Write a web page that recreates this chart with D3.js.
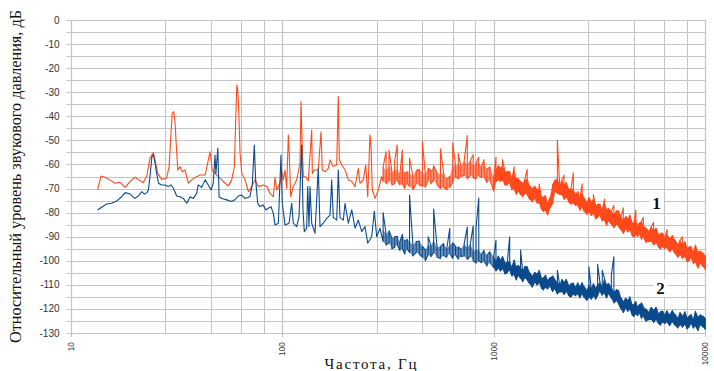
<!DOCTYPE html>
<html><head><meta charset="utf-8">
<script src="https://cdn.jsdelivr.net/npm/d3@7"></script>
<style>body{margin:0;background:#fff}svg{display:block}</style>
</head><body><svg id="c" width="714" height="371"></svg>
<script>
// ---- data ----
const yTicks = [0,-10,-20,-30,-40,-50,-60,-70,-80,-90,-100,-110,-120,-130];
const yGrid = [0,-5,-10,-15,-20,-25,-30,-35,-40,-45,-50,-55,-60,-65,-70,-75,-80,-85,-90,-95,-100,-105,-110,-115,-120,-125,-130];
const xTicks = [10,100,1000,10000];
const xTickLabels = ["10","100","1000","10000"];
const xMinor = [28,46,64,82,280,460,640,820,2800,4600,6400,8200];

// low-frequency part: individual points
const redLowF = [13.4,13.9,14.5,15.3,16.2,17.1,18.1,19.1,20.1,21.3,
22.0,22.9,23.7,24.6,25.0,25.8,26.9,28.4,29.2,29.8,
30.2,30.7,31.1,31.6,32.1,32.9,33.7,34.7,36.0,37.3,
39.4,40.9,43.2,45.6,46.1,46.7,48.1,49.9,51.8,53.7,
55.6,57.7,59.4,60.3,61.0,61.6,62.3,63.2,64.4,66.7,
69.2,71.8,74.4,77.1,81.4,84.5,87.6,90.8,92.5,94.2,
97.6,99.5,101.2,103.1,105.0,106.9,108.0,109.7,112.8,117.1,
121.4,122.7,124.0,125.9,129.2,132.9,137.9,138.8,141.8,148.1,
152.6,154.7,159.4,165.2,168.3,174.4,181.0,184.2,186.2,191.1,
198.2,205.4,213.2,221.0,229.1,233.3,241.8,248.2,253.7,260.1,
263.0,266.7,274.7,284.7,295.4];
const redLowDb = [-70.6,-64.8,-65.3,-66.4,-67.8,-67.4,-69.5,-67.1,-65.3,-66.7,
-67.6,-64.8,-57.4,-55.1,-58.1,-63.7,-66.2,-65.7,-60.9,-47.1,
-38.7,-38.1,-41.5,-52.6,-62.3,-60.9,-63.0,-62.3,-67.8,-66.4,
-65.1,-64.4,-64.4,-54.7,-58.1,-62.3,-63.7,-65.1,-66.4,-67.8,
-68.9,-66.4,-60.9,-41.5,-27.0,-29.1,-37.4,-55.4,-63.7,-66.4,
-71.3,-69.2,-66.4,-69.2,-68.5,-69.2,-72.0,-73.4,-65.3,-70.6,
-67.8,-63.0,-66.4,-62.3,-69.9,-47.8,-55.4,-73.4,-69.2,-66.4,
-59.5,-33.9,-48.5,-65.1,-65.1,-66.8,-45.7,-63.7,-62.3,-62.3,
-46.4,-62.3,-63.0,-61.6,-58.1,-60.9,-60.2,-31.8,-58.0,-60.2,
-62.3,-66.4,-67.1,-69.2,-61.6,-67.8,-66.4,-60.2,-73.4,-47.8,
-52.5,-70.6,-74.1,-70.6,-65.1];

const blueLowF = [13.4,14.0,14.8,15.6,16.5,17.4,18.1,19.1,20.1,20.9,
21.7,22.3,22.9,23.3,23.7,24.2,24.6,25.0,25.5,26.0,
26.9,27.9,28.9,29.8,30.6,31.7,32.9,34.1,35.4,36.7,
38.0,39.4,40.1,41.6,43.2,44.7,46.1,47.2,48.1,48.6,
49.6,50.3,51.8,54.7,57.7,59.8,62.0,64.4,66.7,70.4,
72.2,73.8,74.9,76.6,78.5,81.4,83.6,86.0,88.5,90.8,
92.5,95.9,98.7,100.1,103.1,107.7,110.9,112.8,117.1,120.1,
123.6,125.4,127.2,130.5,132.0,133.9,135.3,137.9,142.9,148.1,
150.9,156.4,162.3,168.3,171.4,174.4,181.0,184.2,187.6,194.5,
198.2,205.4,213.2,221.0,229.1,237.6,246.3,253.7,264.9,272.6,
279.8,290.0];
const blueLowDb = [-78.9,-77.8,-76.4,-76.1,-75.2,-73.4,-71.7,-72.3,-74.1,-73.1,
-71.3,-72.3,-71.7,-70.6,-65.1,-56.8,-56.1,-58.8,-63.7,-67.8,
-68.5,-68.5,-69.2,-68.5,-69.9,-73.1,-73.4,-74.1,-76.1,-73.4,
-74.1,-72.0,-68.5,-69.5,-66.4,-68.5,-70.6,-67.8,-56.1,-63.7,
-53.3,-73.4,-74.1,-74.7,-75.4,-74.7,-73.1,-72.7,-74.1,-73.4,
-68.5,-51.9,-66.4,-76.1,-77.5,-76.8,-78.9,-78.2,-77.5,-80.3,
-85.1,-84.4,-56.1,-76.1,-85.1,-84.4,-76.1,-84.4,-85.8,-81.7,
-51.9,-78.9,-87.9,-86.5,-69.2,-85.8,-69.2,-84.4,-88.6,-61.6,
-85.8,-84.4,-82.4,-81.0,-66.4,-82.0,-83.1,-62.3,-82.0,-83.1,
-76.1,-84.4,-78.9,-86.5,-83.1,-87.9,-85.8,-92.7,-90.0,-79.5,
-90.0,-86.5];

// dense part: frequency bins with upper / lower edge of the noise band
const gridF = [300,310,320,330,340,350,360,370,380,390,
400,415,430,445,460,475,490,505,520,540,
560,580,600,620,640,660,680,700,725,750,
775,800,825,850,875,900,930,960,1000,1025,
1050,1075,1100,1130,1160,1190,1220,1250,1280,1310,
1340,1370,1400,1440,1480,1520,1560,1600,1640,1680,
1720,1760,1800,1850,1900,1950,2000,2050,2100,2150,
2200,2260,2320,2380,2440,2500,2560,2620,2680,2750,
2820,2890,2960,3030,3100,3180,3260,3340,3420,3500,
3600,3700,3800,3900,4000,4100,4200,4300,4400,4500,
4600,4700,4800,4900,5000,5100,5250,5400,5550,5700,
5850,6000,6150,6300,6450,6600,6800,7000,7200,7400,
7600,7800,8000,8200,8400,8600,8800,9000,9250,9500,
9750,10000];
const redUpper = [-61,-62.5,-60.5,-63,-62.5,-62,-64,-61,-63.5,-63,
-63.5,-65,-62.5,-62,-63.5,-64,-61.5,-62.5,-60.5,-63.5,
-64,-63.5,-66,-65,-60,-60.5,-60,-61,-58.5,-60,
-58.5,-60.5,-59.5,-59,-61,-59.5,-62,-61,-65.5,-62,
-60.5,-61.5,-60.5,-63,-63,-63,-66,-63,-66,-66,
-67,-68,-66.5,-66,-69,-70,-69,-70.5,-70,-73.5,
-73.5,-73,-76.5,-73.5,-68.5,-66.5,-66,-68.5,-66.5,-68.5,
-67.5,-70.5,-70,-70.5,-72.5,-71.3,-73.5,-72,-74,-75.8,
-73.7,-75.7,-74.2,-77.1,-76.5,-76.5,-79,-75.9,-78.8,-78.3,
-79.3,-80.8,-79.3,-79.3,-81.7,-83.2,-81.6,-82.5,-81,-84.3,
-84.2,-83,-85.4,-84.2,-83.6,-85.4,-86.4,-87.9,-85.9,-87.4,
-86.4,-89.2,-88.6,-88.6,-90.5,-88.9,-90.9,-89.5,-91.5,-93.5,
-91.5,-93.5,-92,-94.9,-94.3,-94.2,-96.7,-93.5,-96.5,-96,
-96.8,-98.2];
const redLower = [-67,-68,-66.5,-68.5,-68,-66.5,-68.5,-68,-70,-68,
-69,-70.5,-68,-68.5,-69,-69.5,-66.5,-68,-66.5,-68.5,
-70,-69.5,-70.5,-69.5,-67.5,-65,-66,-65,-64.5,-66,
-64.5,-65.5,-66,-64.5,-65.5,-65,-67.5,-66.5,-71,-67,
-66.5,-67,-66.5,-68.5,-68.5,-67.5,-70.5,-70,-72.5,-71,
-72.5,-73.5,-72,-72.5,-74.5,-75.5,-74,-76,-76,-78.5,
-79.5,-79,-81,-78,-76,-71,-72,-72.5,-72.5,-74.5,
-73.5,-75.5,-76.5,-76,-77,-76.8,-79,-77.5,-79.5,-80.8,
-79.7,-81.2,-80.2,-82.6,-82,-81,-83.5,-82.9,-85.3,-83.3,
-84.8,-86.3,-84.8,-85.8,-87.2,-88.7,-86.6,-88,-87,-89.3,
-90.2,-89,-89.9,-88.7,-91.1,-89.9,-92.4,-91.9,-91.9,-93.4,
-92.4,-94.2,-95.1,-94.1,-95,-94.4,-96.4,-95,-97,-98.5,
-97.5,-99,-98,-100.4,-99.8,-98.7,-101.2,-100.5,-103,-101,
-102.3,-103.7];
const redSpikeF = [310,320,340,350,370,400,460,560,640,680,
750,800,850,900,1025,1100,1250,1440,1640,2000,
2150,2380,2620,2960,3340,3700,4100,4700,5100,5700,
6600,7800];
const redSpikeDb = [-54.7,-54,-58.8,-51.9,-54,-57.4,-50.5,-53.5,-51,-55.5,
-48,-56,-57,-58,-57,-58,-61,-62,-68,-50,
-64.5,-63.5,-68,-72.5,-74.5,-77,-78,-79,-82,-84,
-87,-90];

const blueUpper = [-87,-89,-87.5,-90.5,-90,-89.8,-92.2,-89,-91.8,-91.1,
-92,-93.5,-92,-91.8,-94,-95.5,-93.5,-93.8,-91.5,-94.5,
-94,-92.8,-95,-93.5,-92.5,-94,-94.3,-95.2,-93,-94.5,
-93,-96,-95.5,-95.5,-97.3,-95.7,-97.7,-96.2,-98.3,-100.2,
-98,-99.8,-98.2,-101,-100.4,-100.3,-102.8,-99.7,-102.5,-101.9,
-102.8,-104.2,-102.5,-102.5,-105,-106.5,-104.8,-105.6,-104,-107.3,
-107.1,-106,-108.2,-107,-106.3,-108,-108.8,-110,-107.8,-109,
-107.7,-110.4,-109.6,-109.3,-111,-109.2,-110.9,-109.1,-110.8,-112.5,
-110,-111.5,-109.5,-111.5,-110,-109,-110.8,-107.3,-110,-109.5,
-111,-113,-112,-112.5,-115.5,-117,-115.5,-116.5,-115,-118.3,
-118.1,-117,-119.3,-118.1,-117.5,-119.3,-120.1,-121.5,-119.3,-120.6,
-119.3,-122,-121.2,-120.9,-122.6,-120.8,-122.5,-120.7,-122.3,-123.9,
-121.5,-123.1,-121.2,-123.8,-122.9,-122.4,-124.5,-121,-123.5,-122.5,
-123,-124];
const blueLower = [-92,-93.5,-92.5,-95,-94.5,-93.3,-95.7,-95,-97.3,-95.1,
-96.5,-98,-96.5,-97.3,-98.5,-100,-97.5,-98.3,-96.5,-98.5,
-99,-97.8,-98.5,-97,-99,-97.5,-99.3,-98.2,-98,-99.5,
-98,-100,-101,-100,-100.8,-100.2,-102.2,-100.7,-102.8,-104.2,
-103,-104.3,-103.2,-105.5,-104.9,-103.8,-106.3,-105.7,-108,-105.9,
-107.3,-108.7,-107,-108,-109.5,-111,-108.8,-110.1,-109,-111.3,
-112.1,-111,-111.7,-110.5,-112.8,-111.5,-113.8,-113,-112.8,-114,
-112.7,-114.4,-115.1,-113.8,-114.5,-113.7,-115.4,-113.6,-115.3,-116.5,
-115,-116,-114.5,-116,-114.5,-112.5,-114.3,-113.3,-115.5,-113.5,
-115.5,-117.5,-116.5,-118,-120,-121.5,-119.5,-121,-120,-122.3,
-123.1,-122,-122.8,-121.6,-124,-122.8,-125.1,-124.5,-124.3,-125.6,
-124.3,-126,-126.7,-125.4,-126.1,-125.3,-127,-125.2,-126.8,-127.9,
-126.5,-127.6,-126.2,-128.3,-127.4,-125.9,-128,-127,-129,-126.5,
-127.5,-128.5];
const blueSpikeF = [300,400,490,520,620,750,800,825,850,1025,
1190,1340,2000,2820,3100,3260,3600,3700];
const blueSpikeDb = [-80,-72.7,-90,-78.5,-86.5,-86,-85.5,-86.5,-74,-91.5,
-90,-95.5,-104,-102.5,-101.5,-104,-106,-98.3];

const yTitle = "Относительный уровень звукового давления, дБ";
const xTitle = "Частота, Гц";
const seriesLabels = ["1","2"];

// ---- drawing ----
const svg = d3.select("#c");
const x = d3.scaleLog().domain([10,10000]).range([70.7,705.2]);
const y = d3.scaleLinear().domain([-130,0]).range([333,20]);
const gridColor = "#c4c4c4";

svg.append("g").selectAll("line").data(yGrid).join("line")
  .attr("x1",66.5).attr("x2",x(10000))
  .attr("y1",d=>Math.round(y(d))+0.5).attr("y2",d=>Math.round(y(d))+0.5)
  .attr("stroke",gridColor).attr("stroke-width",1);

svg.append("g").selectAll("line").data(xMinor.concat(xTicks)).join("line")
  .attr("x1",d=>Math.round(x(d))+0.5).attr("x2",d=>Math.round(x(d))+0.5)
  .attr("y1",y(0)).attr("y2",d=>xTicks.includes(d)?y(-130)+4:y(-130))
  .attr("stroke",gridColor).attr("stroke-width",d=>xTicks.includes(d)?1.2:1);

svg.append("g").selectAll("text").data(yTicks).join("text")
  .attr("x",59.5).attr("y",d=>y(d)).attr("dy","0.35em")
  .attr("text-anchor","end")
  .attr("font-family","'Liberation Sans', Arial, sans-serif")
  .attr("font-size","10px").attr("fill","#333")
  .text(d=>d===0?"0":"-"+Math.abs(d));

svg.append("g").selectAll("text").data(xTicks).join("text")
  .attr("transform",d=>`translate(${x(d)},342) rotate(-90)`)
  .attr("dy","0.35em").attr("text-anchor","end")
  .attr("font-family","'Liberation Sans', Arial, sans-serif")
  .attr("font-size","8.4px").attr("fill","#333")
  .text((d,i)=>xTickLabels[i]);

// series
function buildSeries(lowF, lowDb, up, lo, spF, spDb){
  const spike = new Map(spF.map((f,i)=>[f,spDb[i]]));
  const pts = lowF.map((f,i)=>[f,lowDb[i]]);
  gridF.forEach((f,i)=>{
    const top = spike.has(f) ? spike.get(f) : up[i];
    if(i%2===0){ pts.push([f,lo[i]]); pts.push([f,top]); }
    else { pts.push([f,top]); pts.push([f,lo[i]]); }
  });
  return pts;
}
const line = d3.line().x(d=>x(d[0])).y(d=>y(d[1]));
const band = d3.area().x(d=>x(d.f)).y0(d=>y(d.lo)).y1(d=>y(d.up));

function drawSeries(color, lowF, lowDb, up, lo, spF, spDb){
  const bandData = gridF.map((f,i)=>({f, up:up[i], lo:lo[i]}));
  const mid = bandData.filter(d=>d.f<=1000), high = bandData.filter(d=>d.f>=1000);
  svg.append("path").datum(mid).attr("d",band)
    .attr("fill",color).attr("fill-opacity",0.6).attr("stroke","none");
  svg.append("path").datum(high).attr("d",band)
    .attr("fill",color).attr("stroke",color).attr("stroke-width",0.6)
    .attr("stroke-linejoin","round");
  svg.append("path").datum(buildSeries(lowF, lowDb, up, lo, spF, spDb)).attr("d",line)
    .attr("fill","none").attr("stroke",color).attr("stroke-width",1.1)
    .attr("stroke-linejoin","round");
}
drawSeries("#ff4a1c", redLowF, redLowDb, redUpper, redLower, redSpikeF, redSpikeDb);
drawSeries("#0b4a8c", blueLowF, blueLowDb, blueUpper, blueLower, blueSpikeF, blueSpikeDb);

// series labels
const labPos = [[656.5,209],[660.5,294]];
seriesLabels.forEach((s,i)=>{
  svg.append("rect").attr("x",labPos[i][0]-7).attr("y",labPos[i][1]-15)
    .attr("width",14).attr("height",18).attr("fill","#fff");
  svg.append("text").attr("x",labPos[i][0]).attr("y",labPos[i][1])
    .attr("text-anchor","middle")
    .attr("font-family","'Liberation Serif','Times New Roman',serif")
    .attr("font-weight","bold").attr("font-size","17px").attr("fill","#111")
    .text(s);
});

// axis titles
svg.append("text").attr("x",370.5).attr("y",369)
  .attr("text-anchor","middle")
  .attr("font-family","'Liberation Serif','Times New Roman',serif")
  .attr("font-size","15px").attr("fill","#111")
  .attr("textLength",92).attr("lengthAdjust","spacing")
  .text(xTitle);
svg.append("text")
  .attr("transform","translate(20.5,176.5) rotate(-90)")
  .attr("text-anchor","middle")
  .attr("font-family","'Liberation Serif','Times New Roman',serif")
  .attr("font-size","16.5px").attr("fill","#111")
  .attr("textLength",333).attr("lengthAdjust","spacingAndGlyphs")
  .text(yTitle);
</script>
</body></html>
